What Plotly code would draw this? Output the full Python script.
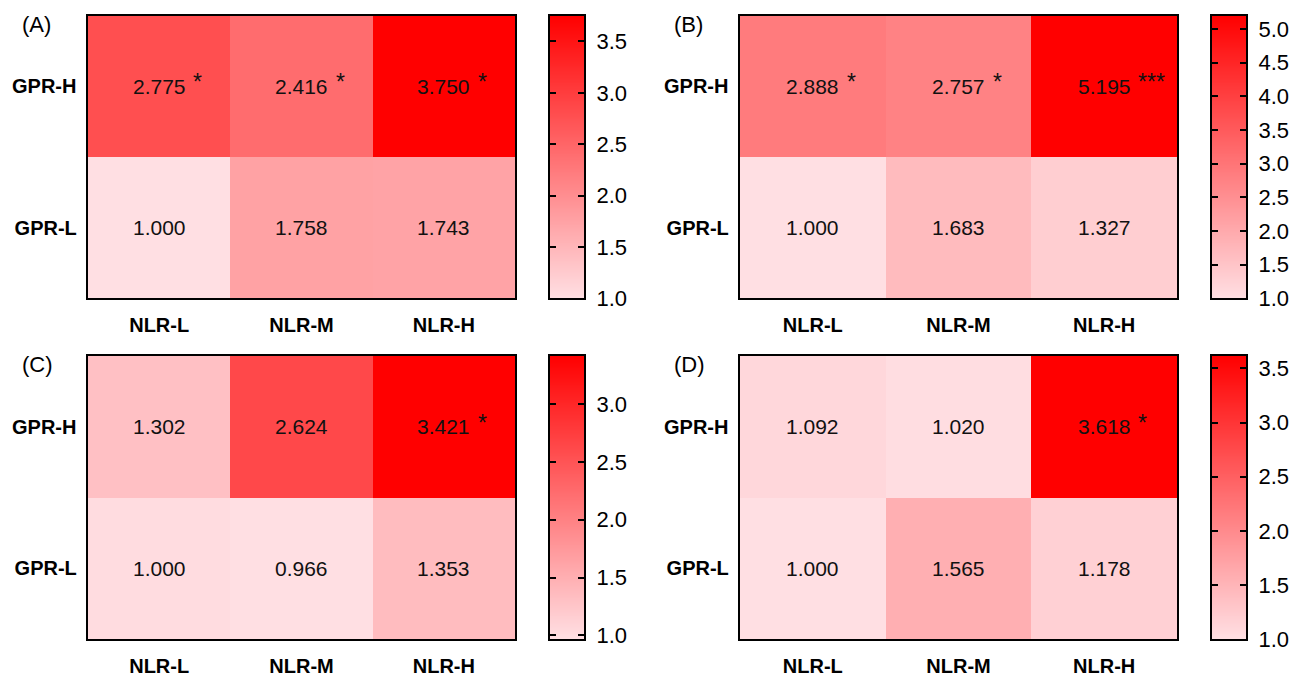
import numpy as np
import plotly.graph_objects as go

cols = ["NLR-L", "NLR-M", "NLR-H"]
rows = ["GPR-L", "GPR-H"]

# values per panel: [GPR-L row, GPR-H row]
vals_A = [[1.000, 1.758, 1.743], [2.775, 2.416, 3.750]]
vals_B = [[1.000, 1.683, 1.327], [2.888, 2.757, 5.195]]
vals_C = [[1.000, 0.966, 1.353], [1.302, 2.624, 3.421]]
vals_D = [[1.000, 1.565, 1.178], [1.092, 1.020, 3.618]]

sig_A = [["", "", ""], ["*", "*", "*"]]
sig_B = [["", "", ""], ["*", "*", "***"]]
sig_C = [["", "", ""], ["", "", "*"]]
sig_D = [["", "", ""], ["", "", "*"]]

ticks_A = [1.0, 1.5, 2.0, 2.5, 3.0, 3.5]
ticks_B = [1.0, 1.5, 2.0, 2.5, 3.0, 3.5, 4.0, 4.5, 5.0]
ticks_C = [1.0, 1.5, 2.0, 2.5, 3.0]
ticks_D = [1.0, 1.5, 2.0, 2.5, 3.0, 3.5]

labels = ["(A)", "(B)", "(C)", "(D)"]

W, H = 1298, 677
HY = 665  # vertical reference used for placing panels
colorscale = [[0, "rgb(255,223,227)"], [1, "rgb(255,0,0)"]]

panels = [
    dict(z=vals_A, sig=sig_A, ticks=ticks_A, x0=88, x1=515, y0=16, y1=302, cbx=550),
    dict(z=vals_B, sig=sig_B, ticks=ticks_B, x0=740, x1=1177, y0=16, y1=302, cbx=1212),
    dict(z=vals_C, sig=sig_C, ticks=ticks_C, x0=88, x1=515, y0=360, y1=647, cbx=550),
    dict(z=vals_D, sig=sig_D, ticks=ticks_D, x0=740, x1=1177, y0=360, y1=647, cbx=1212),
]

fig = go.Figure()
annotations = []
FONT = "Liberation Sans, Arial, sans-serif"
CB_W = 34
layout_axes = {}

for i, p in enumerate(panels):
    k = 2 * i + 1
    n = "" if k == 1 else str(k)
    n2 = str(k + 1)
    xa, ya = "x" + n, "y" + n
    xb, yb = "x" + n2, "y" + n2
    zs = [v for r in p["z"] for v in r]
    zmin, zmax = min(zs), max(zs)
    dom_x = [p["x0"] / W, p["x1"] / W]
    dom_y = [1 - p["y1"] / HY, 1 - p["y0"] / HY]
    fig.add_trace(go.Heatmap(
        z=p["z"], x=cols, y=rows, xaxis=xa, yaxis=ya,
        colorscale=colorscale, zmin=zmin, zmax=zmax,
        showscale=False, hoverinfo="skip",
    ))
    # colour bar as its own small axis (ticks on both inner edges)
    grad = np.linspace(zmin, zmax, 300)
    fig.add_trace(go.Heatmap(
        z=[[g] for g in grad], x=[0], y=grad, xaxis=xb, yaxis=yb,
        colorscale=colorscale, zmin=zmin, zmax=zmax,
        showscale=False, hoverinfo="skip",
    ))
    tick_font = dict(family=FONT, size=20, color="black", weight="bold")
    layout_axes["xaxis" + n] = dict(domain=dom_x, anchor=ya, showline=True, mirror=True,
                                    linewidth=2, linecolor="black", ticks="outside", ticklen=8,
                                    tickcolor="rgba(0,0,0,0)", tickfont=tick_font,
                                    showgrid=False, zeroline=False)
    layout_axes["yaxis" + n] = dict(domain=dom_y, anchor=xa, showline=True, mirror=True,
                                    linewidth=2, linecolor="black", ticks="",
                                    tickfont=tick_font, showgrid=False, zeroline=False,
                                    ticksuffix=" ")
    layout_axes["xaxis" + n2] = dict(domain=[p["cbx"] / W, (p["cbx"] + CB_W) / W], anchor=yb,
                                     showline=True, mirror=True, linewidth=2, linecolor="black",
                                     showticklabels=False, ticks="", showgrid=False,
                                     zeroline=False, range=[-0.5, 0.5])
    layout_axes["yaxis" + n2] = dict(domain=dom_y, anchor=xb, side="right",
                                     range=[zmin, zmax], showline=True, mirror="allticks",
                                     linewidth=2, linecolor="black",
                                     ticks="inside", ticklen=6, tickwidth=2, tickcolor="black",
                                     tickvals=p["ticks"],
                                     ticktext=[f" {t:.1f}" for t in p["ticks"]],
                                     tickfont=dict(family=FONT, size=22, color="black"),
                                     showgrid=False, zeroline=False)
    for ri, r in enumerate(rows):
        for ci, c in enumerate(cols):
            v = p["z"][ri][ci]
            annotations.append(dict(x=c, y=r, xref=xa, yref=ya, text=f"{v:.3f}",
                                    showarrow=False,
                                    font=dict(family=FONT, size=21, color="#111")))
            s = p["sig"][ri][ci]
            if s:
                annotations.append(dict(x=c, y=r, xref=xa, yref=ya, text=s,
                                        showarrow=False, xanchor="left",
                                        xshift=32, yshift=4,
                                        font=dict(family=FONT, size=23, color="#111")))
    annotations.append(dict(x=(p["x0"] - 68) / W, y=1 - (p["y0"] - 6) / HY,
                            xref="paper", yref="paper", text=labels[i],
                            showarrow=False, xanchor="left", yanchor="top",
                            font=dict(family=FONT, size=22, color="black")))

fig.update_layout(layout_axes)
fig.update_layout(
    width=W, height=H,
    margin=dict(l=0, r=0, t=0, b=0),
    paper_bgcolor="white", plot_bgcolor="white",
    annotations=annotations,
    showlegend=False,
)

fig.write_html("out.html", config={"displayModeBar": False},
               post_script="document.body.style.margin='0';document.body.style.overflow='hidden';")
